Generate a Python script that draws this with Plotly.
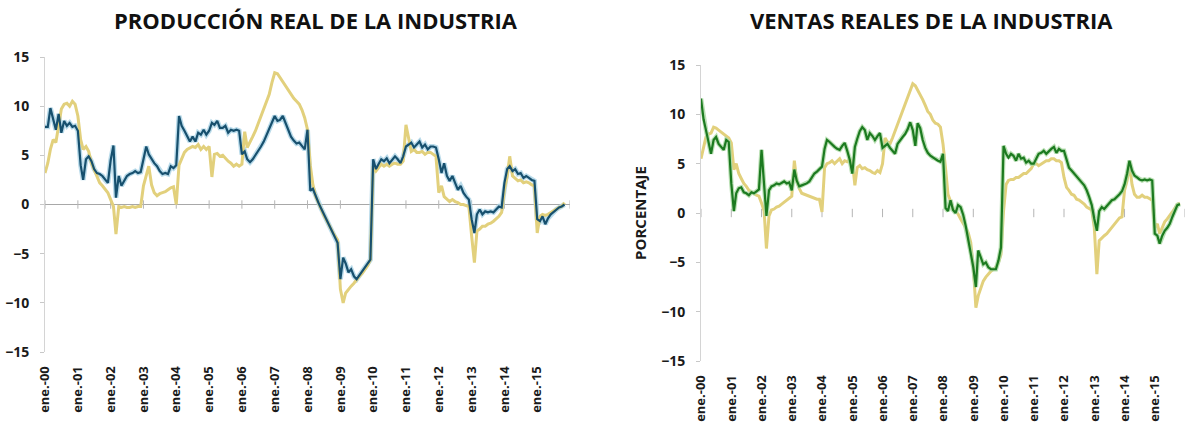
import pandas as pd
import plotly.graph_objects as go

# Monthly year-to-date variation (%), Jan 2000 - Nov 2015
prod_a = [  # producción, dark blue
    7.9, 7.9, 9.8, 8.8, 7.6, 9.2, 7.3, 8.5, 8.0, 8.3, 7.9, 8.0,
    7.5, 4.0, 2.5, 4.6, 4.9, 4.4, 3.6, 3.2, 3.1, 2.9, 2.5, 2.2,
    4.5, 6.0, 0.7, 2.9, 1.9, 2.5, 2.9, 3.1, 3.2, 3.4, 3.2, 3.3,
    4.6, 5.9, 5.1, 4.6, 4.2, 3.9, 3.4, 3.1, 3.2, 3.1, 3.9, 3.7,
    4.0, 9.0, 8.0, 7.5, 6.9, 6.4, 6.9, 6.4, 7.3, 7.1, 7.6, 7.1,
    7.5, 8.3, 8.1, 8.5, 7.8, 7.8, 8.0, 7.3, 7.6, 7.5, 7.6, 7.5,
    5.1, 5.4, 4.6, 4.3, 4.6, 5.0, 5.5, 5.9, 6.4, 7.0, 7.6, 8.3,
    9.0, 8.5, 8.6, 9.0, 8.3, 7.6, 6.9, 6.5, 6.2, 6.3, 5.9, 5.6,
    7.6, 1.4, 1.6, 0.8, 0.2, -0.4, -1.0, -1.6, -2.2, -2.7, -3.3, -3.9,
    -7.6, -5.4, -6.0, -6.9, -6.6, -7.3, -7.6, -7.2, -6.9, -6.5, -6.1, -5.6,
    4.6, 3.6, 4.1, 4.6, 4.4, 4.7, 4.2, 4.6, 4.9, 4.6, 4.2, 4.9,
    5.9, 6.1, 6.3, 5.8, 6.1, 6.4, 5.8, 6.1, 5.6, 5.9, 5.9, 5.8,
    4.6, 3.2, 4.2, 2.9, 2.4, 2.9, 2.2, 1.5, 1.9, 1.2, 0.8, 0.5,
    -1.5, -2.9, -1.0, -0.5, -1.0, -0.7, -0.8, -0.7, -0.8, -0.5, -0.2, -0.3,
    2.2, 3.6, 3.9, 3.4, 3.6, 3.1, 3.2, 2.7, 2.9, 2.7, 2.5, 2.4,
    -1.5, -1.7, -1.2, -2.0, -1.4, -1.0, -0.8, -0.5, -0.3, -0.2, 0.0,
]
prod_b = [  # producción, khaki
    3.2, 4.2, 5.6, 6.6, 6.3, 8.3, 9.7, 10.2, 10.3, 10.0, 10.5, 10.2,
    9.0, 6.6, 5.6, 5.9, 5.4, 4.2, 3.6, 2.9, 2.2, 1.9, 1.5, 1.2,
    0.5, -0.2, -3.0, -0.2, -0.3, -0.2, -0.3, -0.3, -0.2, -0.3, -0.2, -0.2,
    1.9, 2.9, 3.9, 2.0, 1.2, 0.9, 1.1, 1.2, 1.3, 1.5, 1.7, 1.8,
    0.0, 4.0, 4.6, 5.3, 5.6, 5.8, 5.9, 5.8, 6.1, 5.6, 5.9, 5.6,
    5.9, 2.8, 5.1, 5.2, 4.9, 5.0, 4.7, 4.4, 4.2, 3.9, 4.1, 3.9,
    4.1, 7.4, 5.8, 6.3, 6.9, 7.5, 8.2, 8.9, 9.6, 10.3, 11.2, 12.4,
    13.4, 13.3, 12.9, 12.5, 12.1, 11.7, 11.2, 10.8, 10.5, 10.2, 9.6, 8.8,
    7.6, 4.0, 2.0, 0.8, 0.2, -0.5, -1.1, -1.6, -2.2, -2.7, -3.2, -3.6,
    -8.6, -10.0, -9.0, -8.6, -8.3, -8.0, -7.6, -7.3, -7.0, -6.6, -6.2, -5.6,
    3.9, 3.4, 3.7, 4.1, 3.9, 4.1, 3.9, 4.1, 4.2, 4.1, 4.1, 4.4,
    8.1, 6.6, 5.4, 5.6, 5.3, 5.3, 5.4, 5.1, 5.3, 5.3, 5.1, 4.9,
    1.2, 1.9, 0.8, 0.5, 0.3, 0.5, 0.3, 0.2, 0.0, 0.0, -0.1, -0.2,
    -3.2, -5.9, -2.7, -2.5, -2.2, -2.2, -2.0, -1.9, -1.7, -1.5, -1.2, -0.8,
    1.5, 2.9, 4.9, 2.9, 2.7, 2.4, 2.5, 2.2, 2.3, 2.2, 2.0, 1.9,
    -2.9, -1.2, -1.0, -1.1, -1.0, -0.8, -0.7, -0.5, -0.3, -0.2, 0.2,
]
vent_a = [  # ventas, green
    11.6, 9.5, 8.4, 7.2, 6.0, 7.4, 7.7, 7.0, 6.7, 6.4, 7.4, 7.2,
    3.0, 0.2, 2.0, 2.5, 2.6, 2.1, 2.0, 1.8, 2.1, 2.0, 2.2, 2.4,
    6.4, 3.3, -0.3, 2.3, 2.7, 2.8, 3.0, 2.9, 3.1, 3.2, 3.0, 3.1,
    2.3, 4.4, 3.3, 2.7, 2.8, 2.9, 3.0, 3.2, 3.6, 4.0, 4.2, 4.5,
    4.7, 6.5, 7.4, 7.2, 6.9, 6.7, 6.5, 6.4, 6.8, 7.1, 6.3, 5.4,
    4.0, 6.7, 7.5, 8.3, 8.7, 8.4, 7.4, 8.1, 7.8, 7.4, 7.8, 8.1,
    6.6, 6.8, 7.0, 6.6, 6.3, 6.0, 7.0, 7.4, 7.7, 8.0, 8.5, 9.2,
    8.4, 6.8, 9.1, 8.6, 7.4, 6.6, 6.1, 5.8, 5.6, 5.5, 5.3, 5.2,
    6.0, 0.5, 0.2, 1.3, 0.3, 0.0, 0.8, 0.6, -0.2, -1.3, -2.6, -4.0,
    -5.5, -7.5, -3.8, -4.5, -5.2, -5.0, -5.5, -5.7, -5.7, -5.7, -4.8, -3.5,
    6.8, 6.0, 5.6, 6.0, 5.8, 5.3, 6.0, 5.5, 5.6, 5.1, 5.3, 5.0,
    5.0, 5.6, 6.0, 6.1, 6.3, 6.0, 6.3, 6.5, 6.7, 6.1, 6.5, 6.3,
    6.3, 5.3, 4.6, 4.3, 4.0, 3.6, 3.4, 3.1, 2.8, 2.3, 1.6, 0.8,
    -0.6, -1.8, 0.2, 0.6, 0.4, 0.7, 0.9, 1.3, 1.4, 1.6, 1.9, 2.2,
    2.9, 4.0, 5.3, 4.3, 3.8, 3.6, 3.4, 3.3, 3.4, 3.3, 3.4, 3.3,
    -2.1, -2.3, -3.1, -2.3, -1.8, -1.5, -1.1, -0.4, 0.3, 0.8, 0.9,
]
vent_b = [  # ventas, khaki
    5.5, 6.7, 7.7, 8.0, 8.1, 8.7, 8.6, 8.4, 8.2, 8.0, 7.8, 7.6,
    7.1, 4.4, 5.0, 4.0, 3.5, 3.0, 2.7, 2.3, 2.1, 2.0, 1.8, 1.7,
    1.0, 0.2, -3.6, -0.3, 0.3, 0.4, 0.6, 0.7, 0.9, 1.1, 1.3, 1.5,
    1.7, 5.3, 3.3, 2.5, 2.0, 1.9, 1.8, 1.7, 1.6, 1.5, 1.4, 1.4,
    0.1, 4.6, 5.0, 5.1, 5.3, 5.0, 5.3, 5.5, 5.0, 5.3, 5.2, 5.4,
    5.3, 2.8, 4.6, 4.8, 4.5, 4.6, 4.4, 4.3, 4.1, 4.0, 4.3, 4.1,
    5.0, 7.6, 7.2, 7.0, 7.6, 8.3, 9.0, 9.7, 10.3, 11.0, 11.8, 12.5,
    13.1, 12.9, 12.5, 12.0, 11.5, 10.9, 10.3, 10.0, 9.4, 9.1, 9.0, 8.7,
    7.0, 4.5, 1.9, 1.2, 0.4, 0.2, -0.1, -0.6, -1.0, -1.5, -2.0, -3.0,
    -5.5, -9.6, -8.4, -7.5, -6.9, -6.5, -6.2, -5.9, -5.7, -5.5, -5.0, -4.2,
    0.2, 2.9, 3.3, 3.4, 3.4, 3.6, 3.6, 3.8, 4.0, 4.0, 4.3, 4.5,
    5.0, 5.0, 4.8, 5.0, 5.1, 5.3, 5.3, 5.5, 5.5, 5.3, 5.3, 5.1,
    3.6, 2.6, 2.3, 1.9, 1.8, 1.4, 1.3, 1.1, 0.9, 0.6, 0.4, 0.3,
    -1.5, -6.2, -2.8, -2.5, -2.3, -2.1, -1.8, -1.5, -1.1, -0.8, -0.5, -0.4,
    2.3, 3.3, 5.0, 2.9, 1.9, 1.6, 1.6, 1.8, 1.6, 1.6, 1.4, 1.3,
    -1.5, -1.1, -2.1, -1.5, -0.9, -0.6, -0.3, 0.1, 0.5, 0.9, 1.0,
]

years = list(range(2000, 2016))
tick_labels = ["ene.-%02d" % (y % 100) for y in years]
y_ticks = [-15, -10, -5, 0, 5, 10, 15]

months = pd.date_range("2000-01-01", periods=len(prod_a), freq="MS")
year_starts = [pd.Timestamp(y, 1, 1) for y in years] + [pd.Timestamp(2016, 1, 1)]

W, H = 1188, 424
BLUE, BLUE_GLOW = "#17506e", "#a9d3e6"
GREEN, GREEN_GLOW = "#1c7a20", "#a9d9a2"
KHAKI = "#e2d07c"
FONT = "Open Sans"
INK = "#1a1a1a"

fig = go.Figure()


def add_line(y, color, width, xa, ya, opacity=1.0):
    fig.add_trace(go.Scatter(
        x=months, y=y, mode="lines", xaxis=xa, yaxis=ya,
        line=dict(color=color, width=width), opacity=opacity,
        hoverinfo="skip", showlegend=False,
    ))


# Small category ticks sitting on the 0 level
for xa, ya in (("x", "y"), ("x2", "y2")):
    fig.add_trace(go.Scatter(
        x=year_starts, y=[0] * len(year_starts), mode="markers",
        xaxis=xa, yaxis=ya, hoverinfo="skip", showlegend=False,
        marker=dict(symbol="line-ns", size=6,
                    line=dict(color="#b5b5b5", width=1)),
    ))

# Left: producción
add_line(prod_a, BLUE_GLOW, 5, "x", "y", 0.8)
add_line(prod_b, KHAKI, 3, "x", "y")
add_line(prod_a, BLUE, 2.2, "x", "y")

# Right: ventas
add_line(vent_b, KHAKI, 3, "x2", "y2")
add_line(vent_a, GREEN_GLOW, 4.5, "x2", "y2", 0.8)
add_line(vent_a, GREEN, 2.2, "x2", "y2")


def px_x(a, b):
    return [a / W, b / W]


def px_y(top, bottom):
    return [1 - bottom / H, 1 - top / H]


xcommon = dict(
    type="date", range=["2000-01-01", "2016-01-01"], automargin=False,
    tickmode="array", tickvals=year_starts[:-1], ticktext=tick_labels,
    tickangle=-90, showgrid=False, zeroline=False, showline=False,
    ticks="outside", ticklen=8, tickcolor="rgba(0,0,0,0)",
    tickfont=dict(family=FONT, size=13, color=INK, weight="bold"),
)
ycommon = dict(
    range=[-15, 15], tickmode="array", tickvals=y_ticks, automargin=False,
    showgrid=False, showline=True, linecolor="#d4d4d4", linewidth=1,
    ticks="outside", ticklen=4, tickcolor="#c8c8c8", ticklabelstandoff=8,
    tickfont=dict(family=FONT, size=14, color=INK, weight="bold"),
)

fig.update_layout(
    width=W, height=H, margin=dict(l=0, r=0, t=0, b=0),
    paper_bgcolor="white", plot_bgcolor="white", showlegend=False,
    xaxis=dict(xcommon, domain=px_x(45, 570), anchor="y"),
    yaxis=dict(ycommon, domain=px_y(57, 352), anchor="x",
               zeroline=True, zerolinecolor="#a8a8a8", zerolinewidth=1),
    xaxis2=dict(xcommon, domain=px_x(701, 1185), anchor="y2"),
    yaxis2=dict(ycommon, domain=px_y(65, 361), anchor="x2", zeroline=False,
                title=dict(text="PORCENTAJE", standoff=10,
                           font=dict(family=FONT, size=15, color=INK,
                                     weight="bold"))),
    annotations=[
        dict(text="PRODUCCIÓN REAL DE LA INDUSTRIA", x=316 / W, y=1 - 20 / H,
             xref="paper", yref="paper", xanchor="center", yanchor="middle",
             showarrow=False,
             font=dict(family=FONT, size=22, color="#111", weight="bold")),
        dict(text="VENTAS REALES DE LA INDUSTRIA", x=931 / W, y=1 - 20 / H,
             xref="paper", yref="paper", xanchor="center", yanchor="middle",
             showarrow=False,
             font=dict(family=FONT, size=22, color="#111", weight="bold")),
    ],
)

fig.write_html("out.html")
